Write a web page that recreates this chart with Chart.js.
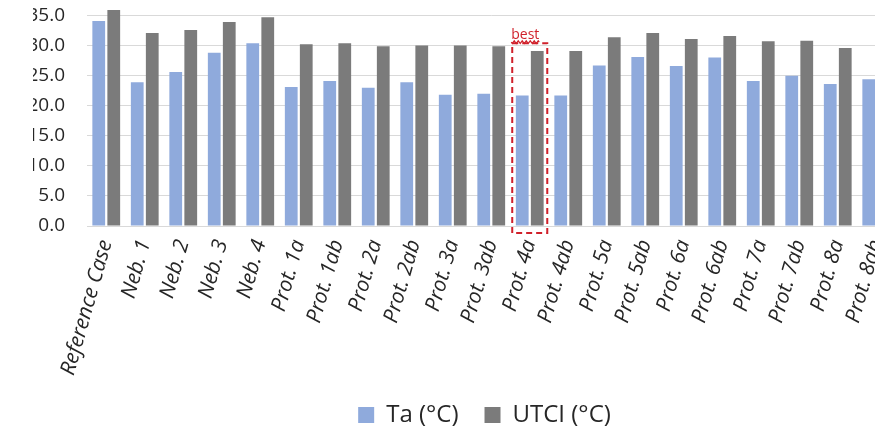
<!DOCTYPE html>
<html><head><meta charset="utf-8">
<script src="https://cdn.jsdelivr.net/npm/chart.js@4/dist/chart.umd.min.js"></script>
<style>
html,body{margin:0;padding:0;background:#fff;}
#crop{position:absolute;left:33px;top:0;width:842px;height:433px;overflow:hidden;}
#box{position:absolute;left:-33px;top:-48px;width:969px;height:485px;}
</style></head><body>
<div id="crop"><div id="box"><canvas id="c"></canvas></div></div>
<script>
const categories = ['Reference Case','Neb. 1','Neb. 2','Neb. 3','Neb. 4','Prot. 1a','Prot. 1ab','Prot. 2a','Prot. 2ab','Prot. 3a','Prot. 3ab','Prot. 4a','Prot. 4ab','Prot. 5a','Prot. 5ab','Prot. 6a','Prot. 6ab','Prot. 7a','Prot. 7ab','Prot. 8a','Prot. 8ab'];
const taValues = [34.1, 23.9, 25.6, 28.8, 30.4, 23.1, 24.1, 23.0, 23.9, 21.8, 22.0, 21.7, 21.7, 26.7, 28.1, 26.6, 28.0, 24.1, 25.0, 23.6, 24.4];
const utciValues = [35.9, 32.1, 32.6, 33.9, 34.7, 30.2, 30.4, 29.9, 30.0, 30.0, 29.9, 29.1, 29.1, 31.4, 32.1, 31.1, 31.6, 30.7, 30.8, 29.6, 30.3];
const seriesNames = ['Ta (°C)', 'UTCI (°C)'];
const yMin = 0, yMax = 40, yStep = 5;
const bestIndex = 11;
const bestBoxTop = 30.4;
const bestLabel = 'best';

const RED = '#D0212B';
const bestPlugin = {
  id: 'bestBox',
  afterDatasetsDraw(chart) {
    const {ctx, scales: {x, y}} = chart;
    const cw = x.width / categories.length;
    const cx = x.getPixelForValue(bestIndex);
    const half = cw * 0.455;
    const top = y.getPixelForValue(bestBoxTop);
    const bottom = y.getPixelForValue(0) + 7;
    ctx.save();
    ctx.strokeStyle = RED;
    ctx.lineWidth = 2;
    ctx.setLineDash([6, 4]);
    ctx.strokeRect(cx - half, top, 2 * half, bottom - top);
    ctx.setLineDash([]);
    ctx.fillStyle = RED;
    ctx.font = '14px "Open Sans"';
    ctx.textAlign = 'left';
    ctx.textBaseline = 'alphabetic';
    const tx = cx - half - 1;
    ctx.fillText(bestLabel, tx, top - 4);
    const w = ctx.measureText(bestLabel).width;
    ctx.lineWidth = 1.2;
    ctx.beginPath();
    for (let i = 0; i <= w; i += 1) {
      const yy = top - 1 + Math.sin(i * Math.PI / 2) * 1.3;
      if (i === 0) ctx.moveTo(tx + i, yy); else ctx.lineTo(tx + i, yy);
    }
    ctx.stroke();
    ctx.restore();
  }
};

// legend is centred on the original (wider, uncropped) figure
const legendShift = {
  id: 'legendShift',
  afterLayout(chart) {
    const lg = chart.legend;
    if (lg) { lg.left += 36.75; lg.right += 36.75; }
  }
};

new Chart(document.getElementById('c'), {
  type: 'bar',
  data: {
    labels: categories,
    datasets: [
      {label: seriesNames[0], data: taValues, backgroundColor: '#8FAADC', borderWidth: 0},
      {label: seriesNames[1], data: utciValues, backgroundColor: '#7B7B7B', borderWidth: 0}
    ]
  },
  options: {
    responsive: true,
    maintainAspectRatio: false,
    animation: false,
    layout: {padding: {top: 0, right: 73.5, left: 0, bottom: 0}},
    datasets: {bar: {categoryPercentage: 0.78, barPercentage: 0.85}},
    plugins: {
      legend: {
        position: 'bottom',
        labels: {
          boxWidth: 16, boxHeight: 16, padding: 26,
          color: '#262626',
          font: {family: '"Open Sans"', size: 24}
        }
      },
      tooltip: {enabled: false}
    },
    scales: {
      x: {
        grid: {display: false},
        border: {display: true, color: '#D9D9D9', width: 1},
        ticks: {
          minRotation: 74, maxRotation: 74, autoSkip: false,
          color: '#262626',
          font: {family: '"Open Sans"', size: 21, style: 'italic'}
        },
        afterFit(s) { s.height = 151; }
      },
      y: {
        min: yMin, max: yMax,
        grid: {color: '#D9D9D9', lineWidth: 1, drawTicks: false},
        border: {display: false},
        ticks: {
          stepSize: yStep, padding: 22,
          color: '#262626',
          font: {family: '"Open Sans"', size: 19},
          callback: v => Number(v).toFixed(1)
        },
        afterFit(s) { s.width = 87; }
      }
    }
  },
  plugins: [bestPlugin, legendShift]
});
</script>
</body></html>
